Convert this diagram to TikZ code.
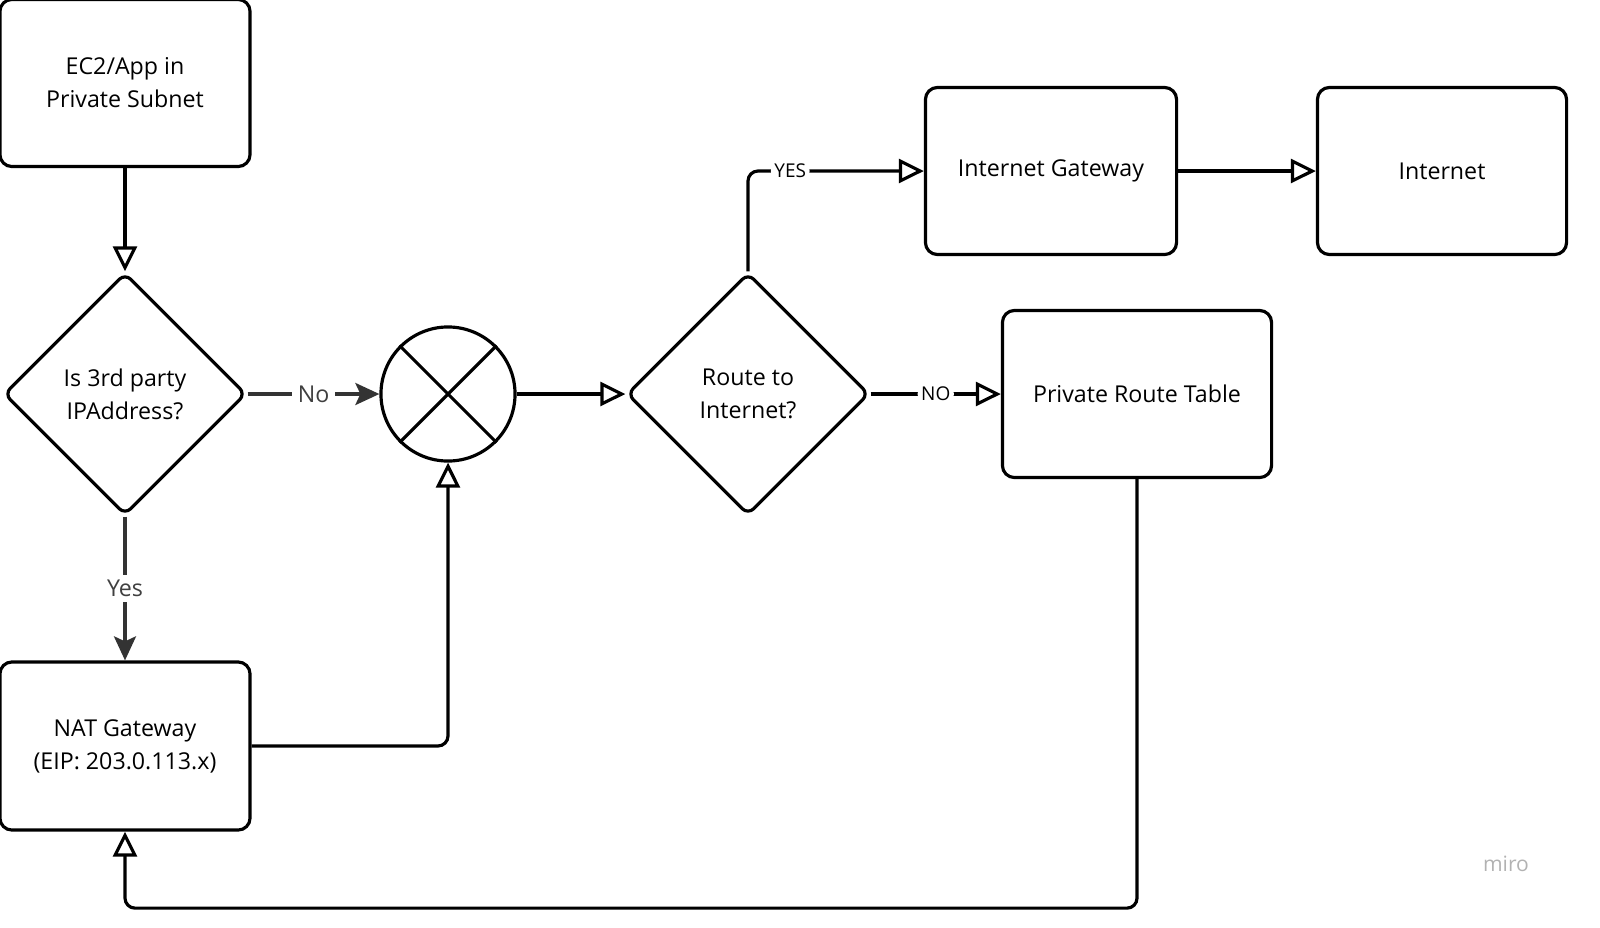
\documentclass[tikz,border=0pt]{standalone}
\usepackage{fontspec}
\setmainfont{Open Sans}
\usetikzlibrary{shapes.geometric,arrows.meta,positioning}

\tikzset{
  box/.style={draw, line width=0.9pt, rounded corners=0.12cm, minimum width=2.5cm, minimum height=1.67cm, align=center, font=\fontsize{6.6}{9.4}\selectfont},
  decide/.style={draw, line width=0.9pt, diamond, rounded corners=0.08cm, minimum width=2.42cm, minimum height=2.42cm, inner sep=0pt, align=center, font=\fontsize{6.6}{9.4}\selectfont},
  flow/.style={draw, line width=0.9pt, rounded corners=0.1cm, -{Triangle[open, length=0.25cm, width=0.24cm]}},
  solid flow/.style={draw=black!80, line width=0.9pt, -{Stealth[length=0.24cm, width=0.22cm, inset=0.05cm]}},
  lbl/.style={fill=white, inner sep=1.5pt, text=black!75, font=\fontsize{6.6}{8}\selectfont},
  small lbl/.style={fill=white, inner sep=1pt, font=\fontsize{5.4}{7}\selectfont}
}

\begin{document}
\begin{tikzpicture}[x=0.01cm, y=-0.01cm]
\useasboundingbox (0,0) rectangle (1600,927);

% nodes
\node[box] (ec2) at (125,83) {EC2/App in\\Private Subnet};
\node[decide] (thirdparty) at (125,394) {Is 3rd party\\IPAddress?};
\node[draw, circle, line width=0.9pt, minimum size=1.34cm] (merge) at (448,394) {};
\draw[line width=0.9pt] (merge.north west) -- (merge.south east) (merge.north east) -- (merge.south west);
\node[decide] (route) at (748,394) {Route to\\Internet?};
\node[box, minimum width=2.51cm] (igw) at (1051,171) {Internet Gateway};
\node[box, minimum width=2.49cm] (inet) at (1442,171) {Internet};
\node[box, minimum width=2.69cm] (prt) at (1137,394) {Private Route Table};
\node[box, minimum height=1.68cm] (nat) at (125,746) {NAT Gateway\\(EIP: 203.0.113.x)};
\node[text=black!30, font=\fontsize{6}{7}\selectfont] (logo) at (1506,864) {miro};

% connectors
\draw[flow] (ec2) -- (thirdparty.north);
\draw[solid flow] (thirdparty.east) -- node[lbl]{No} (merge);
\draw[solid flow] (thirdparty.south) -- node[lbl]{Yes} (nat);
\draw[flow] (nat.east |- nat) -| (merge.south);
\draw[flow] (merge) -- (route.west);
\draw[flow] (route.north) |- node[small lbl, pos=0.62]{YES} (igw.west);
\draw[flow] (route.east) -- node[small lbl]{NO} (prt);
\draw[flow] (igw) -- (inet);
\draw[flow] (prt.south) -- ++(0,429) -| (nat.south);
\end{tikzpicture}
\end{document}
